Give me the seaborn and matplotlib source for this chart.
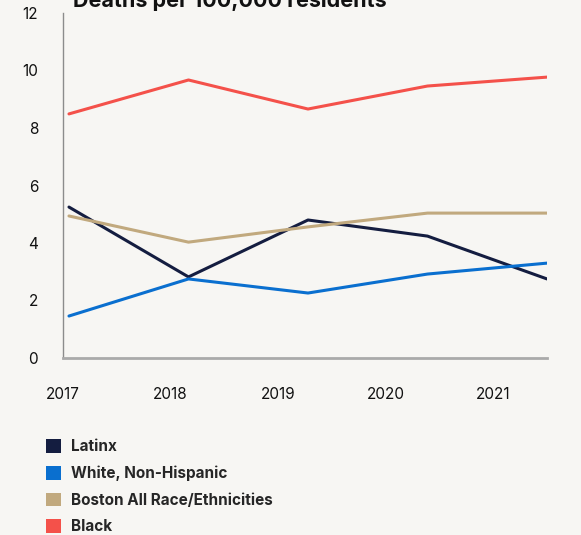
import pandas as pd
import numpy as np
import matplotlib
matplotlib.use("Agg")
import matplotlib.pyplot as plt
from matplotlib.patches import Patch
import seaborn as sns

years = [2017, 2018, 2019, 2020, 2021]
groups = ["Latinx", "White, Non-Hispanic", "Boston All Race/Ethnicities", "Black"]
latinx = [5.25, 2.82, 4.80, 4.24, 2.75]
white = [1.46, 2.75, 2.26, 2.92, 3.30]
boston_all = [4.94, 4.03, 4.56, 5.04, 5.04]
black = [8.49, 9.67, 8.66, 9.46, 9.77]
colors = ["#141d40", "#0a6fcf", "#c1a97e", "#f4514a"]
y_ticks = [0, 2, 4, 6, 8, 10, 12]

df = pd.DataFrame({
    "year": years * 4,
    "rate": latinx + white + boston_all + black,
    "group": [g for g in groups for _ in years],
})

bg = "#f7f6f3"
sns.set_theme(style="white")
plt.rcParams["font.family"] = ["Inter", "DejaVu Sans"]

fig = plt.figure(figsize=(5.81, 5.35), dpi=100, facecolor=bg)
ax = fig.add_axes([63 / 581, 1 - 358 / 535, (547 - 63) / 581, (358 - 13) / 535])
ax.set_facecolor(bg)

sns.lineplot(data=df, x="year", y="rate", hue="group", hue_order=groups,
             palette=colors, linewidth=2.2, legend=False, ax=ax)

ax.set_xlim(2017 - 3 / 120.25, 2021)
ax.set_ylim(0, 12)
ax.set_yticks(y_ticks)
ax.set_yticklabels([str(t) for t in y_ticks], fontsize=11, color="#111111")
# year labels in the original sit a bit left of the data points
ax.set_xticks(np.linspace(2016.95, 2020.55, 5))
ax.set_xticklabels([str(y) for y in years], fontsize=11, color="#111111")
ax.tick_params(axis="y", length=0, pad=18)
ax.tick_params(axis="x", length=0, pad=21)
ax.set_xlabel("")
ax.set_ylabel("")

sns.despine(ax=ax)
ax.spines["left"].set_color("#8c8c8c")
ax.spines["left"].set_linewidth(1.0)
ax.spines["bottom"].set_color("#aaaaaa")
ax.spines["bottom"].set_linewidth(2.0)

fig.text(73 / 581, 1 - 7 / 535, "Deaths per 100,000 residents",
         fontsize=15.5, fontweight="bold", color="#111111", va="baseline")

handles = [Patch(facecolor=c, edgecolor="none") for c in colors]
fig.legend(handles, groups, loc="upper left", bbox_to_anchor=(40 / 581, 1 - 433 / 535),
           frameon=False, prop={"weight": "bold", "size": 11},
           handlelength=1.0, handleheight=1.0, handletextpad=0.6,
           labelspacing=0.75, borderaxespad=0)

fig.savefig("out.png", dpi=100, facecolor=bg)
